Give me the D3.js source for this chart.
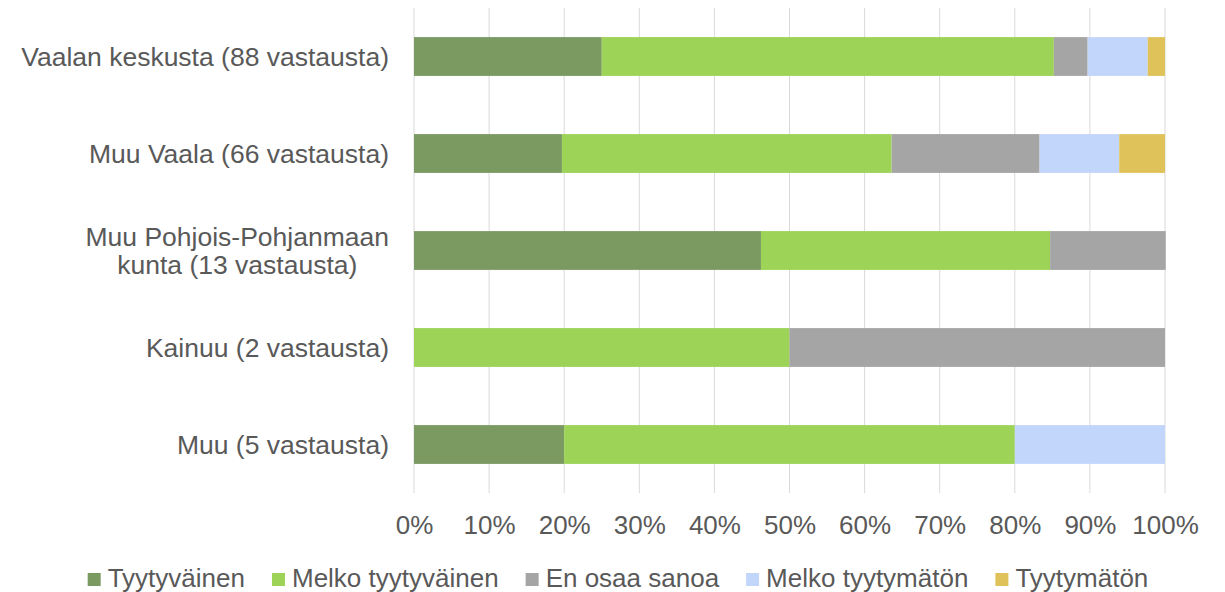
<!DOCTYPE html>
<html>
<head>
<meta charset="utf-8">
<script src="https://cdn.jsdelivr.net/npm/d3@7"></script>
<style>
  body { margin: 0; background: #fff; }
  text { font-family: "Liberation Sans", Arial, sans-serif; fill: #595959; }
</style>
</head>
<body>
<div id="chart"></div>
<script>
// categories (top to bottom)
const categories = [
  ["Vaalan keskusta (88 vastausta)"],
  ["Muu Vaala (66 vastausta)"],
  ["Muu Pohjois-Pohjanmaan", "kunta (13 vastausta)"],
  ["Kainuu (2 vastausta)"],
  ["Muu (5 vastausta)"]
];
const seriesNames = ["Tyytyväinen", "Melko tyytyväinen", "En osaa sanoa", "Melko tyytymätön", "Tyytymätön"];
const seriesColors = ["#7a9a62", "#9dd356", "#a5a5a5", "#c2d5fb", "#dfc35a"];

// shares in percent, one array per series, in category order
const tyytyvainen      = [25.0, 19.7, 46.2, 0,  20];
const melkoTyytyvainen = [60.2, 43.9, 38.5, 50, 60];
const enOsaaSanoa      = [4.5,  19.7, 15.4, 50, 0];
const melkoTyytymaton  = [8.0,  10.6, 0,    0,  20];
const tyytymaton       = [2.3,  6.1,  0,    0,  0];
const seriesValues = [tyytyvainen, melkoTyytyvainen, enOsaaSanoa, melkoTyytymaton, tyytymaton];
const tickValues = [0, 10, 20, 30, 40, 50, 60, 70, 80, 90, 100];

const W = 1225, H = 592;
const margin = {top: 8, left: 414};
const width = 1165 - margin.left,
      height = 493 - margin.top;

const svg = d3.select("#chart").append("svg")
    .attr("width", W).attr("height", H);
const g = svg.append("g")
    .attr("transform", `translate(${margin.left},${margin.top})`);

const rows = categories.map((c, i) => {
  const r = {key: i};
  seriesNames.forEach((s, j) => r[s] = seriesValues[j][i]);
  return r;
});
const stacked = d3.stack().keys(seriesNames)(rows);

const x = d3.scaleLinear().domain([0, 100]).range([0, width]);
const y = d3.scaleBand().domain(d3.range(categories.length)).range([0, height]).paddingInner(0.6).paddingOuter(0.3);

// gridlines
g.append("g")
  .selectAll("line")
  .data(tickValues)
  .join("line")
    .attr("x1", d => x(d)).attr("x2", d => x(d))
    .attr("y1", 0).attr("y2", height)
    .attr("stroke", "#d9d9d9").attr("stroke-width", 1);

// bars
g.append("g")
  .selectAll("g")
  .data(stacked)
  .join("g")
    .attr("fill", (d, i) => seriesColors[i])
  .selectAll("rect")
  .data(d => d)
  .join("rect")
    .attr("x", d => x(d[0]))
    .attr("y", (d, i) => y(i))
    .attr("width", d => x(d[1]) - x(d[0]))
    .attr("height", y.bandwidth());

// x axis tick labels
const xAxis = g.append("g")
  .attr("transform", `translate(0,${height})`)
  .call(d3.axisBottom(x).tickValues(tickValues).tickFormat(d => d + "%").tickSize(0).tickPadding(0));
xAxis.select(".domain").remove();
xAxis.selectAll("text")
  .attr("y", 32)
  .attr("dy", "0.35em")
  .style("font-size", "26px")
  .style("font-family", "'Liberation Sans', Arial, sans-serif")
  .attr("fill", "#595959");

// category labels (multi-line labels centred on each other, block right-aligned)
const lineH = 1.06;
const labels = g.append("g")
  .selectAll("text")
  .data(categories)
  .join("text")
    .attr("y", (d, i) => y(i) + y.bandwidth() / 2)
    .attr("text-anchor", "middle")
    .style("font-size", "26.5px");
labels.each(function(lines) {
  const t = d3.select(this);
  const n = lines.length;
  const spans = lines.map((ln, k) => t.append("tspan")
      .attr("dy", k === 0 ? `${0.35 - (n - 1) * lineH / 2}em` : `${lineH}em`)
      .text(ln));
  const maxW = d3.max(spans, s => s.node().getComputedTextLength());
  spans.forEach(s => s.attr("x", -25 - maxW / 2));
});

// legend
const legend = svg.append("g").attr("transform", "translate(0,578)");
const items = legend.selectAll("g")
  .data(seriesNames)
  .join("g");
items.append("rect")
  .attr("width", 13).attr("height", 13)
  .attr("y", -5)
  .attr("fill", (d, i) => seriesColors[i]);
items.append("text")
  .attr("x", 20)
  .attr("dy", "0.35em")
  .style("font-size", "26px")
  .text(d => d);
let widths = [];
items.each(function() { widths.push(d3.select(this).select("text").node().getComputedTextLength() + 20); });
const gap = 27;
const total = d3.sum(widths) + gap * (widths.length - 1);
let cx = 618 - total / 2;
items.attr("transform", (d, i) => {
  const t = `translate(${cx},0)`;
  cx += widths[i] + gap;
  return t;
});
</script>
</body>
</html>
